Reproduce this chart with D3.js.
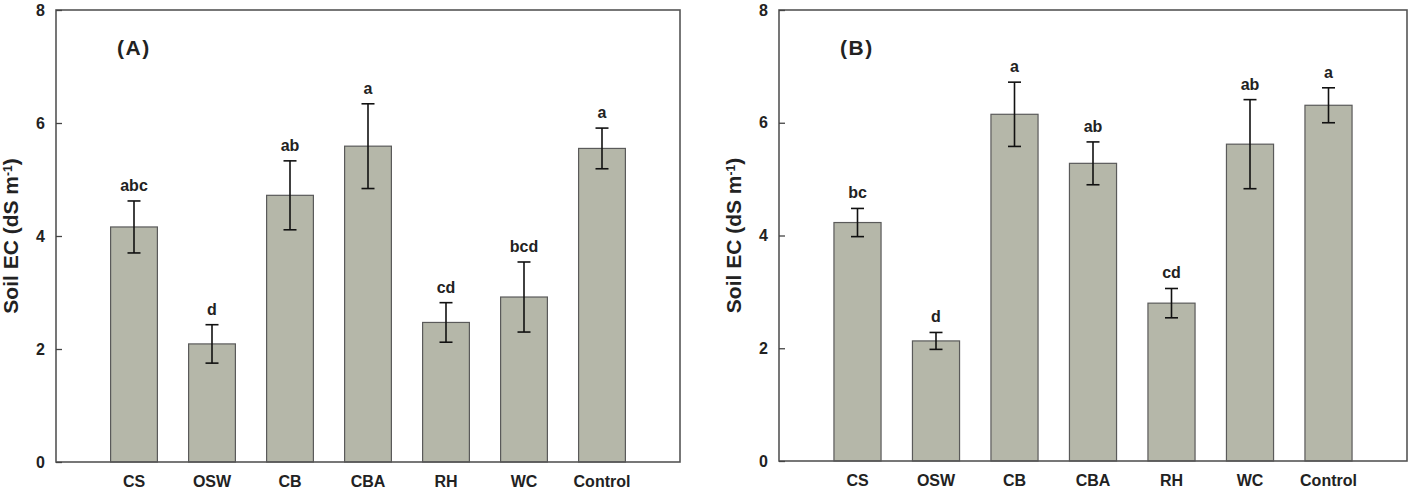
<!DOCTYPE html>
<html>
<head>
<meta charset="utf-8">
<script src="https://cdn.jsdelivr.net/npm/d3@7.9.0/dist/d3.min.js"></script>
<style>
  body { margin: 0; background: #fff; }
  svg { display: block; font-family: "Liberation Sans", Arial, sans-serif; }
</style>
</head>
<body>
<div id="chart"></div>
<script>
const categories = ["CS", "OSW", "CB", "CBA", "RH", "WC", "Control"];
const yTicks = [0, 2, 4, 6, 8];

// Panel A
const ecA = [4.16, 2.09, 4.72, 5.59, 2.47, 2.92, 5.55];
const errA = [0.46, 0.34, 0.61, 0.75, 0.35, 0.62, 0.36];
const lettersA = ["abc", "d", "ab", "a", "cd", "bcd", "a"];

// Panel B
const ecB = [4.23, 2.13, 6.15, 5.28, 2.80, 5.62, 6.31];
const errB = [0.25, 0.15, 0.57, 0.38, 0.26, 0.79, 0.31];
const lettersB = ["bc", "d", "a", "ab", "cd", "ab", "a"];

const W = 1416, H = 490;
const svg = d3.select("#chart").append("svg")
    .attr("width", W)
    .attr("height", H);

function drawPanel(box, values, errors, letters, tag) {
    const g = svg.append("g");

    const x = d3.scaleLinear().domain([0, 8]).range([box.left, box.right]);
    const y = d3.scaleLinear().domain([0, 8]).range([box.bottom, box.top]);
    const barW = (x(1) - x(0)) * 0.6;

    // bars
    g.selectAll("rect.bar")
        .data(values)
        .enter()
        .append("rect")
        .attr("class", "bar")
        .attr("x", (d, i) => x(i + 1) - barW / 2)
        .attr("y", d => y(d))
        .attr("width", barW)
        .attr("height", d => y(0) - y(d))
        .style("fill", "#b5b7a9")
        .style("stroke", "#5a5a5a")
        .style("stroke-width", 1.2);

    // error bars
    const capW = 6.5;
    values.forEach((v, i) => {
        const cx = x(i + 1);
        const lo = y(v - errors[i]), hi = y(v + errors[i]);
        g.append("line").attr("x1", cx).attr("x2", cx).attr("y1", lo).attr("y2", hi);
        g.append("line").attr("x1", cx - capW).attr("x2", cx + capW).attr("y1", lo).attr("y2", lo);
        g.append("line").attr("x1", cx - capW).attr("x2", cx + capW).attr("y1", hi).attr("y2", hi);
    });
    g.selectAll("line").style("stroke", "#111").style("stroke-width", 1.6);

    // significance letters
    g.selectAll("text.letter")
        .data(letters)
        .enter()
        .append("text")
        .attr("class", "letter")
        .attr("x", (d, i) => x(i + 1))
        .attr("y", (d, i) => y(values[i] + errors[i]) - 10)
        .attr("text-anchor", "middle")
        .style("font-size", "16px")
        .style("font-weight", "bold")
        .style("fill", "#222")
        .text(d => d);

    // frame
    g.append("rect")
        .attr("x", box.left)
        .attr("y", box.top)
        .attr("width", box.right - box.left)
        .attr("height", box.bottom - box.top)
        .style("fill", "none")
        .style("stroke", "#555")
        .style("stroke-width", 1.6);

    // y axis
    const yAxis = g.append("g")
        .attr("transform", `translate(${box.left},0)`)
        .call(d3.axisLeft(y).tickValues(yTicks).tickSizeInner(-6).tickSizeOuter(0).tickPadding(11));
    yAxis.select(".domain").remove();
    yAxis.selectAll("line").style("stroke", "#444").style("stroke-width", 1.3);
    yAxis.selectAll("text")
        .style("font-size", "16px")
        .style("font-weight", "bold")
        .style("fill", "#222")
        .style("font-family", "'Liberation Sans', Arial, sans-serif");

    // x category labels
    g.selectAll("text.cat")
        .data(categories)
        .enter()
        .append("text")
        .attr("class", "cat")
        .attr("x", (d, i) => x(i + 1))
        .attr("y", box.bottom + 25)
        .attr("text-anchor", "middle")
        .style("font-size", "16px")
        .style("font-weight", "bold")
        .style("fill", "#222")
        .text(d => d);

    // y title
    const title = g.append("text")
        .attr("transform", `translate(${box.left - 38},${(box.top + box.bottom) / 2}) rotate(-90)`)
        .attr("text-anchor", "middle")
        .style("font-size", "21px")
        .style("font-weight", "bold")
        .style("fill", "#222");
    title.append("tspan").text("Soil EC (dS m");
    title.append("tspan").attr("dy", "-0.5em").style("font-size", "12px").text("-1");
    title.append("tspan").attr("dy", "0.3em").text(")");

    // panel tag
    g.append("text")
        .attr("x", box.left + 61)
        .attr("y", box.top + 45)
        .style("font-size", "21px")
        .style("font-weight", "bold")
        .style("letter-spacing", "1.5px")
        .style("fill", "#222")
        .text(tag);
}

drawPanel({ left: 56, right: 680, top: 10, bottom: 462 }, ecA, errA, lettersA, "(A)");
drawPanel({ left: 779, right: 1407, top: 10, bottom: 461 }, ecB, errB, lettersB, "(B)");
</script>
</body>
</html>
